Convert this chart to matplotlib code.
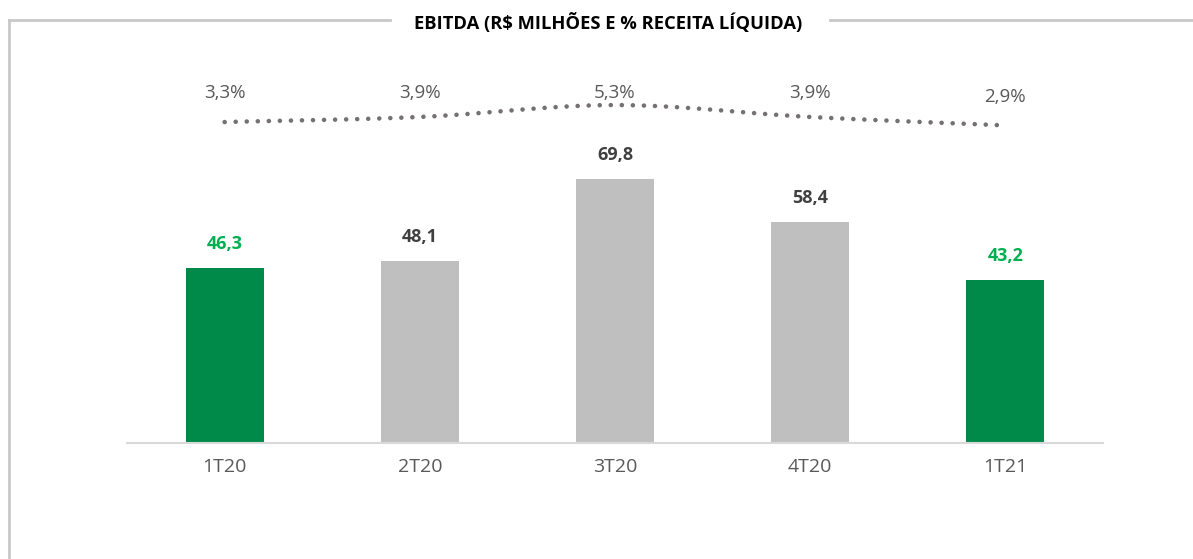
import numpy as np
import matplotlib
matplotlib.use("Agg")
import matplotlib.pyplot as plt
from matplotlib.lines import Line2D

plt.rcParams['font.family'] = ['Open Sans', 'DejaVu Sans']

quarters = ["1T20", "2T20", "3T20", "4T20", "1T21"]
ebitda = [46.3, 48.1, 69.8, 58.4, 43.2]
margin = [3.3, 3.9, 5.3, 3.9, 2.9]
ebitda_labels = ["46,3", "48,1", "69,8", "58,4", "43,2"]
margin_labels = ["3,3%", "3,9%", "5,3%", "3,9%", "2,9%"]
highlight = [True, False, False, False, True]

GREEN = "#008A4A"
GREEN_TXT = "#00B050"
GRAY = "#BFBFBF"


def smooth(xs, ys, n=30):
    # catmull-rom style smoothing, like excel's smoothed line
    xs = np.asarray(xs, float)
    ys = np.asarray(ys, float)
    px = np.concatenate([[2 * xs[0] - xs[1]], xs, [2 * xs[-1] - xs[-2]]])
    py = np.concatenate([[2 * ys[0] - ys[1]], ys, [2 * ys[-1] - ys[-2]]])
    outx, outy = [], []
    for i in range(1, len(px) - 2):
        t = np.linspace(0, 1, n)
        for p, out in ((px, outx), (py, outy)):
            p0, p1, p2, p3 = p[i - 1], p[i], p[i + 1], p[i + 2]
            out.extend(0.5 * ((2 * p1) + (-p0 + p2) * t + (2 * p0 - 5 * p1 + 4 * p2 - p3) * t ** 2
                              + (-p0 + 3 * p1 - 3 * p2 + p3) * t ** 3))
    return np.array(outx), np.array(outy)


fig = plt.figure(figsize=(11.93, 5.59), dpi=100)
ax = fig.add_axes([0.1065, 0.2075, 0.818, 0.685])
x = np.arange(len(quarters))
colors = [GREEN if h else GRAY for h in highlight]
ax.bar(x, ebitda, width=0.4, color=colors, zorder=2)
ax.set_xlim(-0.5, 4.5)
ax.set_ylim(0, 101.3)
for i, v in enumerate(ebitda):
    ax.text(i, v + 4.0, ebitda_labels[i], ha='center', va='bottom', fontsize=13, fontweight='bold',
            color=GREEN_TXT if highlight[i] else "#404040")

for s in ['top', 'right', 'left']:
    ax.spines[s].set_visible(False)
ax.spines['bottom'].set_color("#D9D9D9")
ax.spines['bottom'].set_linewidth(1.5)
ax.set_yticks([])
ax.set_xticks(x)
ax.set_xticklabels(quarters, fontsize=14, color="#595959")
ax.tick_params(axis='x', length=0, pad=11)

ax2 = ax.twinx()
ax2.set_ylim(-34.46, 10.59)
sx, sy = smooth(x, margin)
ax2.plot(sx, sy, color="#757171", lw=3.3, linestyle=(0, (0.01, 2.4)), dash_capstyle='round')
for s in ax2.spines.values():
    s.set_visible(False)
ax2.set_yticks([])
label_y = [0.914, 0.914, 0.914, 0.914, 0.903]
for i, lab in enumerate(margin_labels):
    ax2.text(i, label_y[i], lab, transform=ax2.get_xaxis_transform(), ha='center', va='center',
             fontsize=13.5, color="#595959")

# frame with title breaking the top border
fig.text(0.51, 0.958, "EBITDA (R$ MILHÕES E % RECEITA LÍQUIDA)", ha='center', va='center',
         fontsize=13.2, fontweight='bold', color="black")
ty = 1 - 20 / 559
lx = 9 / 1193
fig.add_artist(Line2D([lx, 390 / 1193], [ty, ty], color="#C8C8C8", lw=2, transform=fig.transFigure))
fig.add_artist(Line2D([830 / 1193, 1.0], [ty, ty], color="#C8C8C8", lw=2, transform=fig.transFigure))
fig.add_artist(Line2D([lx, lx], [ty, 0], color="#C8C8C8", lw=2, transform=fig.transFigure))

fig.savefig("out.png", dpi=100)
